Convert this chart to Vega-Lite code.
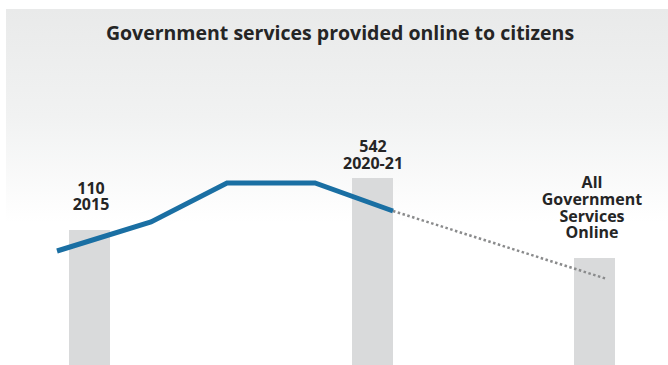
{
  "$schema": "https://vega.github.io/schema/vega-lite/v6.json",
  "width": 668,
  "height": 365,
  "autosize": {"type": "fit", "contains": "padding"},
  "padding": 0,
  "background": "#ffffff",
  "config": {"view": {"stroke": null}},
  "datasets": {
    "panel": [{"x0": 6, "x1": 668, "y0": 0, "y1": 356}],
    "bars": [
      {"label": "2015", "x0": 69, "x1": 110, "h": 135},
      {"label": "2020-21", "x0": 352, "x1": 393, "h": 187},
      {"label": "All Government Services Online", "x0": 574, "x1": 615, "h": 107}
    ],
    "trend": [
      {"x": 57, "y": 114},
      {"x": 151, "y": 143},
      {"x": 227, "y": 182},
      {"x": 315, "y": 182},
      {"x": 393, "y": 154}
    ],
    "projection": [
      {"x": 393, "y": 154},
      {"x": 607, "y": 86}
    ],
    "labels": [
      {"t": "Government services provided online to citizens", "x": 340, "y": 325, "kind": "title"},
      {"t": "110", "x": 91, "y": 171, "kind": "label"},
      {"t": "2015", "x": 91, "y": 155, "kind": "label"},
      {"t": "542", "x": 373, "y": 213, "kind": "label"},
      {"t": "2020-21", "x": 373, "y": 196, "kind": "label"},
      {"t": "All", "x": 592, "y": 177, "kind": "label"},
      {"t": "Government", "x": 592, "y": 160, "kind": "label"},
      {"t": "Services", "x": 592, "y": 143, "kind": "label"},
      {"t": "Online", "x": 592, "y": 127, "kind": "label"}
    ]
  },
  "layer": [
    {
      "data": {"name": "panel"},
      "mark": {
        "type": "rect",
        "fill": {
          "gradient": "linear",
          "x1": 0, "y1": 0, "x2": 0, "y2": 1,
          "stops": [
            {"offset": 0, "color": "#e9eaea"},
            {"offset": 0.3, "color": "#f1f2f2"},
            {"offset": 0.6, "color": "#ffffff"},
            {"offset": 1, "color": "#ffffff"}
          ]
        }
      },
      "encoding": {
        "x": {"field": "x0", "type": "quantitative", "scale": {"domain": [0, 668], "nice": false, "zero": false}, "axis": null},
        "x2": {"field": "x1"},
        "y": {"field": "y0", "type": "quantitative", "scale": {"domain": [0, 365], "nice": false, "zero": false}, "axis": null},
        "y2": {"field": "y1"}
      }
    },
    {
      "data": {"name": "bars"},
      "mark": {"type": "rect", "fill": "#d9dadb"},
      "encoding": {
        "x": {"field": "x0", "type": "quantitative"},
        "x2": {"field": "x1"},
        "y": {"field": "h", "type": "quantitative"},
        "y2": {"datum": 0}
      }
    },
    {
      "data": {"name": "projection"},
      "mark": {"type": "line", "stroke": "#8a8b8c", "strokeWidth": 2.5, "strokeDash": [2.5, 2.5]},
      "encoding": {
        "x": {"field": "x", "type": "quantitative"},
        "y": {"field": "y", "type": "quantitative"}
      }
    },
    {
      "data": {"name": "trend"},
      "mark": {"type": "line", "stroke": "#1a6fa3", "strokeWidth": 5, "strokeJoin": "miter", "strokeCap": "butt"},
      "encoding": {
        "x": {"field": "x", "type": "quantitative"},
        "y": {"field": "y", "type": "quantitative"}
      }
    },
    {
      "data": {"name": "labels"},
      "mark": {"type": "text", "font": "Open Sans", "fontWeight": "bold", "align": "center", "baseline": "alphabetic", "color": "#252525"},
      "encoding": {
        "x": {"field": "x", "type": "quantitative"},
        "y": {"field": "y", "type": "quantitative"},
        "text": {"field": "t"},
        "size": {"field": "kind", "type": "nominal", "scale": {"domain": ["title", "label"], "range": [19.5, 16]}, "legend": null}
      }
    }
  ]
}
